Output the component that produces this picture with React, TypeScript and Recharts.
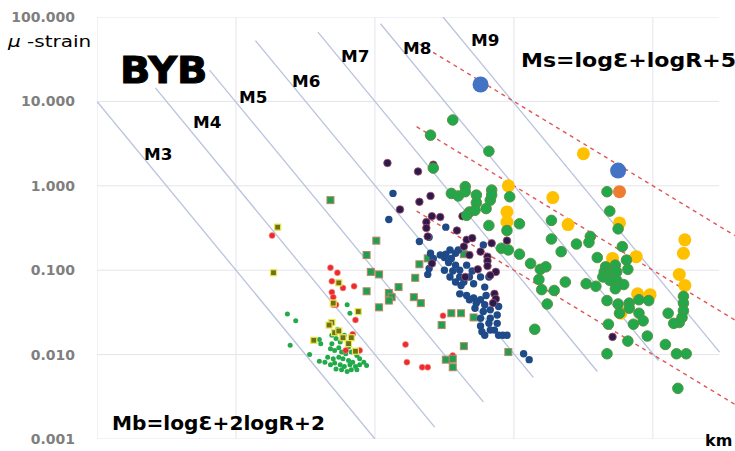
import { Scatter, ScatterChart, XAxis, YAxis } from "recharts";

// every pair is [log10(km), log10(μ-strain)]
type Pair = [number, number];

const kmTicks = [1, 10, 100, 1000, 10000];
const strainTicks = [0.001, 0.01, 0.1, 1, 10, 100];

const smallGreen: Pair[] = [
  [1.8, -1.41], [1.82, -1.51], [1.37, -1.52], [1.43, -1.6], [1.39, -1.89], [1.53, -2.0], [1.6, -1.82],
  [1.61, -1.87], [1.94, -2.13], [1.69, -1.77], [1.72, -1.81], [1.69, -1.87], [1.75, -1.85], [1.78, -1.77],
  [1.81, -1.91], [1.68, -1.93], [1.71, -1.95], [1.76, -1.97], [1.83, -1.97], [1.87, -2.01], [1.66, -2.03],
  [1.7, -2.05], [1.74, -2.03], [1.77, -2.05], [1.81, -2.07], [1.84, -2.09], [1.89, -2.05], [1.64, -2.09],
  [1.68, -2.12], [1.71, -2.1], [1.75, -2.12], [1.78, -2.14], [1.82, -2.12], [1.86, -2.14], [1.89, -2.12],
  [1.76, -2.18], [1.8, -2.2], [1.83, -2.18], [1.87, -2.18], [1.72, -2.17], [1.92, -2.09], [1.6, -2.08],
  [1.73, -1.7], [1.79, -1.99], [1.74, -1.92],
];

const redDots: Pair[] = [
  [1.26, -0.59], [1.68, -0.97], [1.73, -1.03], [1.69, -1.13], [1.77, -1.21], [1.85, -1.19], [1.69, -1.26],
  [1.7, -1.32], [1.7, -1.41], [1.72, -1.41], [1.86, -1.59], [1.84, -1.76], [1.79, -1.95], [1.89, -1.95],
  [2.49, -1.54], [2.22, -1.88], [2.23, -2.09], [2.34, -2.15], [2.38, -2.15], [2.56, -2.01],
];

const oliveSquares: Pair[] = [
  [1.3, -0.49], [1.27, -1.03], [1.74, -1.15], [1.7, -1.39], [1.88, -1.49], [1.69, -1.62], [1.67, -1.65],
  [1.71, -1.74], [1.74, -1.72], [1.56, -1.83], [1.77, -1.8], [1.83, -1.8], [1.81, -1.87], [1.86, -1.96],
];

const greenSquares: Pair[] = [
  [1.68, -0.17], [2.01, -0.65], [1.94, -0.82], [1.97, -1.02], [2.03, -1.05], [1.94, -1.25], [2.17, -1.2],
  [2.1, -1.27], [2.12, -1.32], [2.1, -1.36], [2.03, -1.44], [2.28, -1.32], [2.33, -1.39], [2.32, -0.93],
  [2.29, -1.09], [2.55, -1.51], [2.62, -1.51], [2.71, -1.56], [2.48, -1.65], [2.64, -1.9], [2.51, -2.06],
  [2.56, -2.05], [2.56, -2.15], [2.64, -0.81], [2.38, -0.86], [2.96, -1.97],
];

const purpleDots: Pair[] = [
  [2.09, 0.27], [2.31, 0.17], [2.42, 0.25], [2.32, -0.19], [2.4, -0.12], [2.18, -0.28], [2.41, -0.36],
  [2.47, -0.37], [2.37, -0.43], [2.37, -0.5], [2.38, -0.6], [2.63, -0.36], [2.59, -0.53], [2.66, -0.64],
  [2.7, -0.62], [2.64, -0.72], [2.76, -0.78], [2.84, -0.68], [2.68, -0.82], [2.81, -0.84], [2.41, -0.92],
  [2.81, -0.89], [2.81, -0.95], [2.87, -1.02], [2.74, -0.99], [2.65, -1.08], [2.86, -1.28], [2.87, -1.34],
  [2.85, -1.39], [2.95, -0.65], [3.71, -1.79], [2.83, -1.06],
];

const navyDots: Pair[] = [
  [2.13, -0.09], [2.1, -0.4], [2.51, -0.49], [2.39, -0.61], [2.32, -0.66], [2.54, -0.76], [2.6, -0.76],
  [2.78, -0.7], [2.38, -1.05], [2.39, -0.98], [2.42, -0.86], [2.47, -0.82], [2.51, -0.81], [2.55, -0.86],
  [2.58, -0.8], [2.53, -0.91], [2.58, -0.94], [2.66, -0.94], [2.5, -1.0], [2.56, -1.01], [2.61, -1.0],
  [2.7, -1.01], [2.54, -1.08], [2.61, -1.08], [2.68, -1.08], [2.76, -1.08], [2.58, -1.14], [2.62, -1.18],
  [2.71, -1.16], [2.79, -1.2], [2.61, -1.28], [2.66, -1.3], [2.71, -1.33], [2.76, -1.35], [2.8, -1.3],
  [2.73, -1.39], [2.79, -1.41], [2.83, -1.47], [2.89, -1.43], [2.78, -1.49], [2.83, -1.57], [2.88, -1.53],
  [2.76, -1.57], [2.82, -1.63], [2.76, -1.66], [2.88, -1.63], [2.77, -1.73], [2.79, -1.77], [2.86, -1.71],
  [2.89, -1.77], [2.92, -1.77], [2.4, -0.8], [2.5, -0.85], [2.83, -1.71], [2.82, -1.08], [2.95, -1.77],
  [3.07, -1.99], [3.11, -2.06], [2.64, -1.14], [2.68, -1.35], [2.72, -1.45],
];

const yellowDots: Pair[] = [
  [3.5, 0.38], [2.96, 0.0], [2.95, -0.31], [2.95, -0.43], [3.28, -0.14], [3.39, -0.46], [3.76, -0.44],
  [3.71, -0.86], [3.88, -0.84], [4.23, -0.64], [4.22, -0.8], [4.19, -1.05], [4.23, -1.18], [3.89, -1.28],
  [3.98, -1.29], [3.77, -1.51],
];

const greenDots: Pair[] = [
  [2.56, 0.78], [2.4, 0.6], [2.82, 0.41], [2.42, 0.21], [2.55, -0.09], [2.6, -0.12], [2.65, -0.01],
  [2.65, -0.07], [2.73, -0.11], [2.73, -0.2], [2.68, -0.31], [2.72, -0.29], [2.66, -0.35], [2.8, -0.27],
  [2.83, -0.17], [2.84, -0.05], [2.84, -0.11], [2.82, -0.47], [2.95, -0.53], [2.91, -0.74], [2.97, -0.13],
  [3.04, -0.45], [2.96, -0.76], [3.04, -0.81], [3.27, -0.41], [3.27, -0.63], [3.45, -0.69], [3.34, -0.78],
  [3.55, -0.6], [3.54, -0.67], [3.12, -0.92], [3.19, -0.99], [3.23, -0.96], [3.18, -1.11], [3.2, -1.23],
  [3.29, -1.24], [3.37, -1.14], [3.24, -1.4], [3.15, -1.7], [3.52, -1.16], [3.59, -1.19], [3.6, -0.85],
  [3.67, -0.07], [3.69, -0.3], [3.75, -0.51], [3.78, -0.72], [3.81, -0.88], [3.66, -0.96], [3.73, -0.94],
  [3.82, -0.99], [3.65, -1.02], [3.69, -1.04], [3.74, -1.02], [3.64, -1.08], [3.69, -1.12], [3.74, -1.12],
  [3.79, -1.17], [3.73, -1.22], [3.67, -1.36], [3.75, -1.4], [3.83, -1.39], [3.76, -1.51], [3.83, -1.45],
  [3.9, -1.35], [3.97, -1.36], [3.9, -1.51], [3.93, -1.6], [4.11, -1.51], [3.86, -1.64], [3.68, -1.64],
  [3.82, -1.84], [3.96, -1.78], [4.09, -1.88], [3.67, -1.99], [4.17, -1.99], [4.24, -1.99], [4.22, -1.31],
  [4.22, -1.39], [4.22, -1.48], [4.21, -1.56], [4.19, -1.62], [4.15, -1.63], [4.18, -2.4],
];

const bigBlue: Pair[] = [[2.76, 1.2], [3.75, 0.18]];
const orangeDots: Pair[] = [[3.76, -0.07]];

// Mb = logƐ + 2logR + 2 guide lines, and Ms = logƐ + logR + 5 dashed lines
const mbLines: { name: string; from: Pair; to: Pair }[] = [
  { name: "M3", from: [0, 1], to: [2, -3] },
  { name: "M4", from: [0.42, 1.16], to: [2.43, -2.86] },
  { name: "M5", from: [0.81, 1.37], to: [2.78, -2.56] },
  { name: "M6", from: [1.14, 1.72], to: [3.14, -2.27] },
  { name: "M7", from: [1.59, 1.82], to: [3.6, -2.2] },
  { name: "M8", from: [2.04, 1.92], to: [4.04, -2.07] },
  { name: "M9", from: [2.49, 2.0], to: [4.48, -1.97] },
];
const msLines: { from: Pair; to: Pair }[] = [
  { from: [2.32, 1.68], to: [4.59, -0.59] },
  { from: [2.3, 0.7], to: [4.59, -1.59] },
  { from: [2.3, -0.3], to: [4.59, -2.59] },
];

const toPoint = ([lk, ls]: Pair) => ({ km: 10 ** lk, strain: 10 ** ls });
const pts = (arr: Pair[]) => arr.map(toPoint);

const dot = (r: number, fill: string, stroke = "none", sw = 0) =>
  (p: any) => <circle cx={p.cx} cy={p.cy} r={r} fill={fill} stroke={stroke} strokeWidth={sw} />;
const square = (s: number, fill: string, stroke: string, sw: number) =>
  (p: any) => (
    <rect x={p.cx - s / 2} y={p.cy - s / 2} width={s} height={s} fill={fill} stroke={stroke} strokeWidth={sw} />
  );
const noShape = () => <g />;

const bold = "'DejaVu Sans', sans-serif";
const gridColor = "#e4e4ec";

const labels = [
  { text: "M3", left: 144, top: 148 },
  { text: "M4", left: 193, top: 116 },
  { text: "M5", left: 239, top: 91 },
  { text: "M6", left: 292, top: 75 },
  { text: "M7", left: 341, top: 50 },
  { text: "M8", left: 403, top: 42 },
  { text: "M9", left: 471, top: 34 },
];

export default function App() {
  return (
    <div style={{ position: "absolute", left: 0, top: 0, width: 735, height: 451, background: "#fff" }}>
      <ScatterChart width={735} height={451} margin={{ top: 17, right: 0, bottom: 12, left: 0 }}>
        <XAxis type="number" dataKey="km" scale="log" domain={[1, 39000]} allowDataOverflow hide />
        <YAxis
          type="number"
          dataKey="strain"
          scale="log"
          domain={[0.001, 100]}
          ticks={strainTicks}
          allowDataOverflow
          width={97}
          axisLine={false}
          tickLine={false}
          tickMargin={16}
          tickFormatter={(v) => Number(v).toFixed(3)}
          tick={{ fontSize: 14, fill: "#7f7f7f", fontWeight: 700, fontFamily: bold }}
        />
        {kmTicks.map((v) => (
          <Scatter
            key={`vx-${v}`}
            data={[{ km: v, strain: 0.001 }, { km: v, strain: 100 }]}
            line={{ stroke: gridColor, strokeWidth: 1 }}
            shape={noShape}
            isAnimationActive={false}
          />
        ))}
        {strainTicks.map((v) => (
          <Scatter
            key={`hy-${v}`}
            data={[{ km: 1, strain: v }, { km: 30000, strain: v }]}
            line={{ stroke: gridColor, strokeWidth: 1 }}
            shape={noShape}
            isAnimationActive={false}
          />
        ))}
        {mbLines.map((l) => (
          <Scatter
            key={l.name}
            data={[toPoint(l.from), toPoint(l.to)]}
            line={{ stroke: "#b9c3dd", strokeWidth: 1.3 }}
            shape={noShape}
            isAnimationActive={false}
          />
        ))}
        {msLines.map((l, i) => (
          <Scatter
            key={`ms-${i}`}
            data={[toPoint(l.from), toPoint(l.to)]}
            line={{ stroke: "#e05555", strokeWidth: 1.4, strokeDasharray: "4 4" }}
            shape={noShape}
            isAnimationActive={false}
          />
        ))}
        <Scatter data={pts(smallGreen)} fill="#22aa4a" shape={dot(2.5, "#22aa4a")} isAnimationActive={false} />
        <Scatter data={pts(redDots)} fill="#ee2b2b" shape={dot(3, "#ee2b2b", "#f59090", 0.6)} isAnimationActive={false} />
        <Scatter data={pts(oliveSquares)} fill="#7a7a18" shape={square(6, "#6f6f1c", "#e8e84a", 1.2)} isAnimationActive={false} />
        <Scatter data={pts(greenSquares)} fill="#1f9e55" shape={square(7, "#1f9e55", "#b8865c", 1)} isAnimationActive={false} />
        <Scatter data={pts(navyDots)} fill="#1f4a88" shape={dot(3.7, "#1f4a88")} isAnimationActive={false} />
        <Scatter data={pts(purpleDots)} fill="#2b1b4d" shape={dot(3.8, "#2b1b4d", "#a8506a", 0.8)} isAnimationActive={false} />
        <Scatter data={pts(yellowDots)} fill="#ffc000" shape={dot(6.5, "#ffc000")} isAnimationActive={false} />
        <Scatter data={pts(greenDots)} fill="#20a84a" shape={dot(5.3, "#20a84a", "#5e8a3e", 0.9)} isAnimationActive={false} />
        <Scatter data={pts(orangeDots)} fill="#ed7d31" shape={dot(6.5, "#ed7d31")} isAnimationActive={false} />
        <Scatter data={pts(bigBlue)} fill="#4472c4" shape={dot(8, "#4472c4")} isAnimationActive={false} />
      </ScatterChart>

      <div style={{ position: "absolute", left: 8, top: 34, fontFamily: bold, fontSize: 16, lineHeight: 1, whiteSpace: "nowrap", transform: "scaleX(1.25)", transformOrigin: "left top" }}>
        <i>μ</i> -strain
      </div>
      <div style={{ position: "absolute", left: 120, top: 51, fontFamily: bold, fontWeight: 700, fontSize: 38, lineHeight: 1, WebkitTextStroke: "1px #000", transform: "scaleX(1.05)", transformOrigin: "left top" }}>
        BYB
      </div>
      {labels.map((l) => (
        <div key={l.text} style={{ position: "absolute", left: l.left, top: l.top, fontFamily: bold, fontWeight: 700, fontSize: 15, lineHeight: 1, transform: "scaleX(1.12)", transformOrigin: "left top" }}>
          {l.text}
        </div>
      ))}
      <div style={{ position: "absolute", left: 521, top: 51, fontFamily: bold, fontWeight: 700, fontSize: 19, lineHeight: 1, whiteSpace: "nowrap", transform: "scaleX(1.16)", transformOrigin: "left top" }}>
        Ms=logƐ+logR+5
      </div>
      <div style={{ position: "absolute", left: 112, top: 414, fontFamily: bold, fontWeight: 700, fontSize: 19, lineHeight: 1, whiteSpace: "nowrap", transform: "scaleX(1.06)", transformOrigin: "left top" }}>
        Mb=logƐ+2logR+2
      </div>
      <div style={{ position: "absolute", left: 705, top: 433, fontFamily: bold, fontWeight: 700, fontSize: 16, lineHeight: 1 }}>
        km
      </div>
    </div>
  );
}
